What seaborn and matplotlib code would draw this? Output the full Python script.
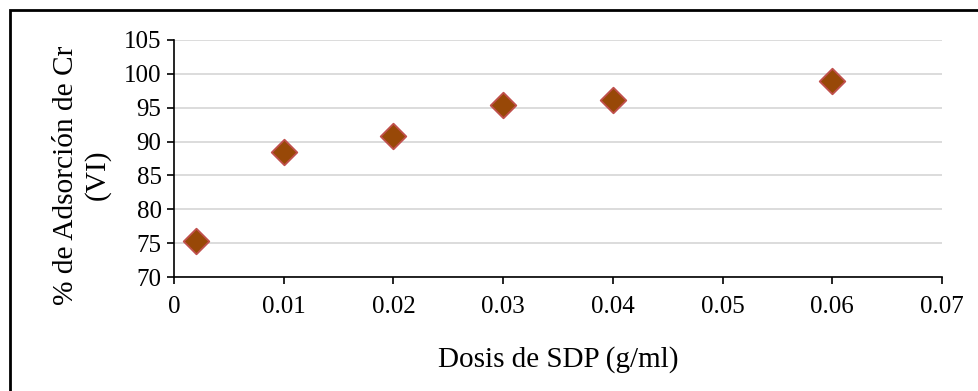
import matplotlib
matplotlib.use("Agg")
import matplotlib.pyplot as plt
from matplotlib.patches import Rectangle
import seaborn as sns
import pandas as pd

# Dose of SDP (g/ml) and Cr(VI) adsorption (%)
dosis = [0.002, 0.01, 0.02, 0.03, 0.04, 0.06]
adsorcion = [75.3, 88.4, 90.8, 95.4, 96.1, 99.0]

x_ticks = [0, 0.01, 0.02, 0.03, 0.04, 0.05, 0.06, 0.07]
x_tick_labels = ["0", "0.01", "0.02", "0.03", "0.04", "0.05", "0.06", "0.07"]
y_ticks = [70, 75, 80, 85, 90, 95, 100, 105]

df = pd.DataFrame({"dosis": dosis, "adsorcion": adsorcion})

sns.set_theme(style="white")
plt.rcParams["font.family"] = ["Liberation Serif", "DejaVu Serif"]

fig = plt.figure(figsize=(9.79, 3.91), dpi=100)
ax = fig.add_axes([174 / 979, 1 - 277 / 391, (942 - 174) / 979, (277 - 40) / 391])

ax.set_axisbelow(True)
ax.yaxis.grid(True, color="#D9D9D9", linewidth=1.3)
ax.xaxis.grid(False)

sns.scatterplot(data=df, x="dosis", y="adsorcion", ax=ax, marker="D", s=170,
                color="#984807", edgecolor="#C0504D", linewidth=1.3, zorder=3,
                legend=False)

ax.set_xlim(0, 0.07)
ax.set_ylim(70, 105)
ax.set_xticks(x_ticks)
ax.set_xticklabels(x_tick_labels)
ax.set_yticks(y_ticks)

for side in ("top", "right"):
    ax.spines[side].set_visible(False)
for side in ("left", "bottom"):
    ax.spines[side].set_color("black")
    ax.spines[side].set_linewidth(1.2)

ax.tick_params(axis="both", which="major", direction="out", length=5, width=1.2,
               color="black", labelsize=18, labelcolor="black",
               bottom=True, left=True)
ax.tick_params(axis="x", pad=9)
ax.tick_params(axis="y", pad=4)

ax.set_xlabel("Dosis de SDP (g/ml)", fontsize=21, color="black", labelpad=20)
ax.set_ylabel("% de Adsorción de Cr\n(VI)", fontsize=21.2, color="black",
              linespacing=1.2)
ax.yaxis.set_label_coords(-0.083, 0.43)

# Outer frame around the chart area
fig.patches.append(Rectangle((10 / 979, -0.1), 1.2, 1 - 10 / 391 + 0.1,
                             transform=fig.transFigure, fill=False,
                             edgecolor="black", linewidth=2.0))

fig.savefig("out.png", dpi=100)
